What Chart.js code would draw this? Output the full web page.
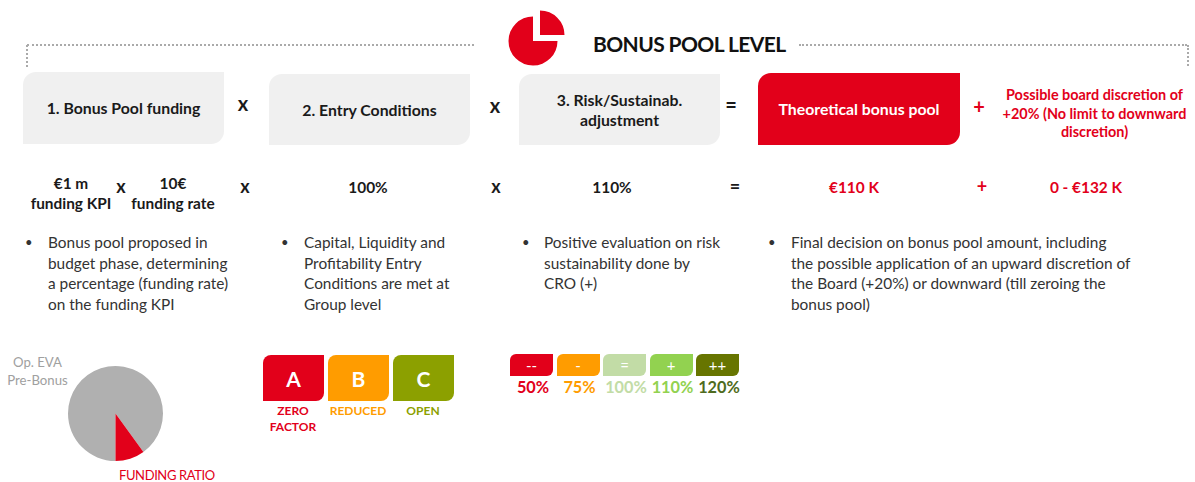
<!DOCTYPE html>
<html>
<head>
<meta charset="utf-8">
<script src="https://cdn.jsdelivr.net/npm/chart.js@4"></script>
<style>
  html, body { margin: 0; padding: 0; background: #fff; }
  #page { position: relative; width: 1195px; height: 482px; overflow: hidden; font-family: "Lato", sans-serif; color: #1a1a1a; }
  #page > * { position: absolute; }
  .box { background: #f0f0f0; border-radius: 13px 0 13px 0; display: flex; align-items: center; justify-content: center; text-align: center; font-weight: 700; font-size: 15.8px; line-height: 20px; }
  .op { font-weight: 700; font-size: 20px; line-height: 24px; text-align: center; width: 30px; }
  .op2 { font-size: 18px; }
  .val { font-weight: 700; font-size: 15.4px; line-height: 20px; text-align: center; }
  .red { color: #e2001a; }
  .txt { font-size: 15.4px; line-height: 20.5px; color: #333; }
  .bullet { font-size: 13px; line-height: 20.5px; color: #333; }
  .dot-h { border-top: 2px dotted #aaa; height: 0; }
  .dot-v { border-left: 2px dotted #aaa; width: 0; }
  .tile { color: #fff; display: flex; align-items: center; justify-content: center; }
  .cap { font-weight: 700; font-size: 12px; line-height: 16px; text-align: center; }
  .pct { font-weight: 700; font-size: 16.3px; text-align: center; width: 50px; line-height: 18px; }
</style>
</head>
<body>
<div id="page">
  <div class="dot-h" style="left:27px;top:44px;width:447px"></div>
  <div class="dot-v" style="left:26px;top:45px;height:22px"></div>
  <div class="dot-h" style="left:799px;top:44px;width:388px"></div>
  <div class="dot-v" style="left:1187px;top:45px;height:21px"></div>

  <div style="left:593px;top:29px;font-size:21px;font-weight:700;line-height:30px;letter-spacing:-0.6px;color:#111">BONUS POOL LEVEL</div>

  <div class="box" style="left:23px;top:72px;width:201px;height:72px">1. Bonus Pool funding</div>
  <div class="box" style="left:269px;top:74px;width:201px;height:71px">2. Entry Conditions</div>
  <div class="box" style="left:519px;top:74px;width:201px;height:71px">3. Risk/Sustainab.<br>adjustment</div>
  <div class="box" style="left:758px;top:73px;width:202px;height:72px;background:#e2001a;color:#fff">Theoretical bonus pool</div>

  <div class="op" style="left:228px;top:91px">x</div>
  <div class="op" style="left:480px;top:93px">x</div>
  <div class="op" style="left:716px;top:92px">=</div>
  <div class="op red" style="left:964px;top:94px">+</div>
  <div class="val red" style="left:1000px;top:86px;width:189px;font-size:14.4px;line-height:18.5px">Possible board discretion of<br>+20% (No limit to downward<br>discretion)</div>

  <div class="val" style="left:26px;top:173px;width:90px">€1 m<br>funding KPI</div>
  <div class="op op2" style="left:106px;top:174px">x</div>
  <div class="val" style="left:123px;top:173px;width:100px">10€<br>funding rate</div>
  <div class="op op2" style="left:230px;top:174px">x</div>
  <div class="val" style="left:328px;top:177px;width:80px">100%</div>
  <div class="op op2" style="left:481px;top:174px">x</div>
  <div class="val" style="left:572px;top:177px;width:80px">110%</div>
  <div class="op op2" style="left:720px;top:174px">=</div>
  <div class="val red" style="left:814px;top:177px;width:80px">€110 K</div>
  <div class="op op2 red" style="left:967px;top:174px">+</div>
  <div class="val red" style="left:1036px;top:177px;width:100px">0 - €132 K</div>

  <div class="bullet" style="left:25px;top:232px">•</div>
  <div class="txt" style="left:48px;top:232px;width:200px">Bonus pool proposed in<br>budget phase, determining<br>a percentage (funding rate)<br>on the funding KPI</div>
  <div class="bullet" style="left:281px;top:232px">•</div>
  <div class="txt" style="left:304px;top:232px;width:190px">Capital, Liquidity and<br>Profitability Entry<br>Conditions are met at<br>Group level</div>
  <div class="bullet" style="left:522px;top:232px">•</div>
  <div class="txt" style="left:544px;top:232px;width:200px">Positive evaluation on risk<br>sustainability done by<br>CRO (+)</div>
  <div class="bullet" style="left:768px;top:232px">•</div>
  <div class="txt" style="left:791px;top:232px;width:380px">Final decision on bonus pool amount, including<br>the possible application of an upward discretion of<br>the Board (+20%) or downward (till zeroing the<br>bonus pool)</div>

  <div style="left:0;top:353px;width:75px;text-align:center;font-size:13.2px;line-height:18px;color:#a0a0a0">Op. EVA<br>Pre-Bonus</div>
  <div style="left:119px;top:468px;font-size:13px;line-height:14px;letter-spacing:-0.4px;color:#e2001a">FUNDING RATIO</div>

  <div style="left:493px;top:1px;width:80px;height:80px"><canvas id="iconMain"></canvas></div>
  <div style="left:500px;top:-5px;width:80px;height:80px"><canvas id="iconQuarter"></canvas></div>
  <div style="left:58px;top:356px;width:115px;height:115px"><canvas id="fundingPie"></canvas></div>
</div>

<script>
// Funding pie
const fundingLabels = ["Op. EVA Pre-Bonus", "Funding ratio"];
const fundingValues = [90, 10];
const fundingColors = ["#b0b0b0", "#e2001a"];

// Icon next to the title
const iconValues = [25, 75];

// Entry condition tiles
const entryLetters = ["A", "B", "C"];
const entryCaptions = ["ZERO<br>FACTOR", "REDUCED", "OPEN"];
const entryColors = ["#e2001a", "#ff9c00", "#8ca000"];

// Risk adjustment tiles
const riskSymbols = ["--", "-", "=", "+", "++"];
const riskLevels = ["50%", "75%", "100%", "110%", "120%"];
const riskColors = ["#e2001a", "#ff9c00", "#c2dca6", "#92d250", "#677500"];
const riskTextColors = ["#e2001a", "#ff9c00", "#c2dca6", "#92d250", "#4f6b20"];

const page = document.getElementById("page");

// tiles
entryLetters.forEach((l, i) => {
  const x = 263 + i * 65;
  const t = document.createElement("div");
  t.className = "tile";
  t.style.cssText = `left:${x}px;top:355px;width:61px;height:46px;background:${entryColors[i]};border-radius:8px 0 8px 0;font-weight:700;font-size:21px`;
  t.textContent = l;
  page.appendChild(t);
  const c = document.createElement("div");
  c.className = "cap";
  c.style.cssText = `left:${x - 8}px;top:403px;width:76px;color:${entryColors[i]}`;
  c.innerHTML = entryCaptions[i];
  page.appendChild(c);
});

riskSymbols.forEach((s, i) => {
  const x = 510 + i * 46.5;
  const t = document.createElement("div");
  t.className = "tile";
  t.style.cssText = `left:${x}px;top:354px;width:43px;height:22px;background:${riskColors[i]};border-radius:6px 0 6px 0;font-size:15px`;
  t.textContent = s;
  page.appendChild(t);
  const p = document.createElement("div");
  p.className = "pct";
  p.style.cssText = `left:${x - 2}px;top:378px;color:${riskTextColors[i]}`;
  p.textContent = riskLevels[i];
  page.appendChild(p);
});

function drawPie(id, values, colors, radius, rotation) {
  return new Chart(document.getElementById(id).getContext("2d"), {
    type: "pie",
    data: {
      datasets: [{
        data: values,
        backgroundColor: colors,
        borderWidth: 0
      }]
    },
    options: {
      responsive: true,
      maintainAspectRatio: false,
      animation: false,
      rotation: rotation,
      radius: radius,
      plugins: { legend: { display: false }, tooltip: { enabled: false } }
    }
  });
}

const fundingChart = drawPie("fundingPie", fundingValues, fundingColors, 47.5, 180);
fundingChart.data.labels = fundingLabels;
fundingChart.update();

// the icon's quarter sits apart from the rest, so it gets its own canvas
drawPie("iconMain", iconValues, ["transparent", "#e2001a"], 24.5, 0);
drawPie("iconQuarter", iconValues, ["#e2001a", "transparent"], 24.5, 0);
</script>
</body>
</html>
